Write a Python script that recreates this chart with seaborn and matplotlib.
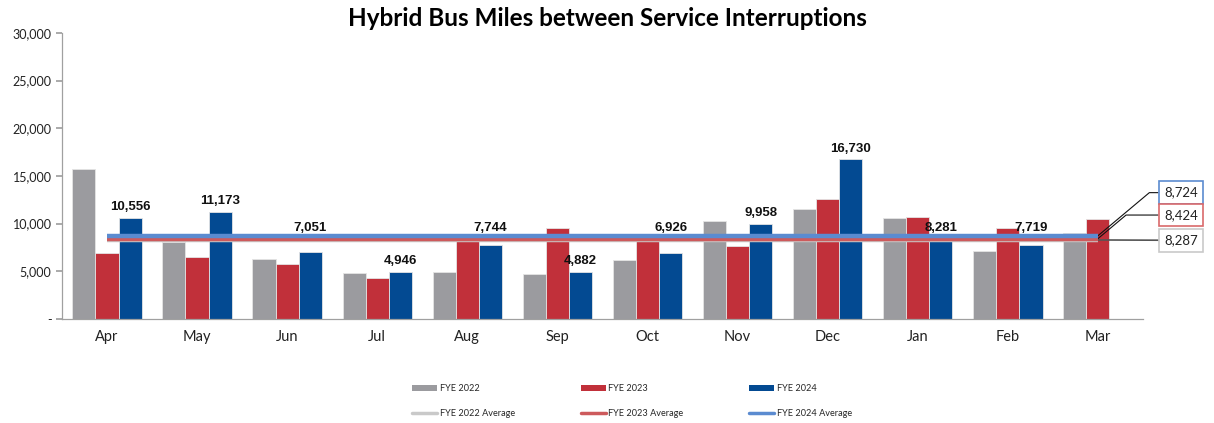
import numpy as np
import pandas as pd
import matplotlib
matplotlib.use("Agg")
import matplotlib.pyplot as plt
import seaborn as sns
from matplotlib.patches import Patch
from matplotlib.lines import Line2D

months = ["Apr", "May", "Jun", "Jul", "Aug", "Sep", "Oct", "Nov", "Dec", "Jan", "Feb", "Mar"]
fye2022 = [15750, 8100, 6320, 4850, 4920, 4720, 6150, 10270, 11530, 10550, 7130, 8980]
fye2023 = [6900, 6500, 5730, 4260, 8870, 9500, 8180, 7650, 12540, 10660, 9500, 10450]
fye2024 = [10556, 11173, 7051, 4946, 7744, 4882, 6926, 9958, 16730, 8281, 7719, np.nan]
series = ["FYE 2022", "FYE 2023", "FYE 2024"]
averages = {"FYE 2022": 8287, "FYE 2023": 8424, "FYE 2024": 8724}

bar_colors = {"FYE 2022": "#9b9b9f", "FYE 2023": "#c1303a", "FYE 2024": "#034a92"}
avg_colors = {"FYE 2022": "#c9c9c9", "FYE 2023": "#cd5a5c", "FYE 2024": "#5b8bd0"}
box_edges = {"FYE 2022": "#c9c9c9", "FYE 2023": "#d9696b", "FYE 2024": "#5b8bd0"}

df = pd.DataFrame({
    "Month": months * 3,
    "Series": [s for s in series for _ in months],
    "Value": fye2022 + fye2023 + fye2024,
})

sns.set_theme(style="white")
plt.rcParams["font.family"] = ["Lato", "DejaVu Sans"]

fig = plt.figure(figsize=(12.14, 4.23), dpi=100)
ax = fig.add_axes([0.051, 0.246, 0.8905, 0.676])

sns.barplot(data=df, x="Month", y="Value", hue="Series", order=months,
            hue_order=series, palette=bar_colors, width=0.77, ax=ax, saturation=1,
            edgecolor="#e4e4e4", linewidth=0.6, legend=False, errorbar=None)

# average lines
for s in series:
    ax.plot([0, len(months) - 1], [averages[s]] * 2, color=avg_colors[s], lw=3.2,
            solid_capstyle="butt", zorder=4)

# data labels for FYE 2024
for i, v in enumerate(fye2024):
    if np.isnan(v):
        continue
    y = v + 1150
    if 8000 < y < 9500:
        y = 9550
    ax.text(i + 0.257, y, f"{int(v):,}", ha="center", va="center",
            fontsize=9.5, fontweight="bold", family="Liberation Sans", color="#111111", zorder=6)

# callouts for averages
box_y = {"FYE 2024": 13250, "FYE 2023": 10900, "FYE 2022": 8250}
for s in ["FYE 2024", "FYE 2023", "FYE 2022"]:
    ax.annotate(f"{averages[s]:,}", xy=(11.0, averages[s]), xytext=(11.92, box_y[s]),
                textcoords="data", ha="center", va="center", fontsize=9.5, color="#222222",
                annotation_clip=False,
                bbox=dict(boxstyle="square,pad=0.4", fc="white", ec=box_edges[s], lw=1.2),
                arrowprops=dict(arrowstyle="-", color="#111111" if s != "FYE 2022" else "#555555",
                                lw=0.8 if s != "FYE 2022" else 1.2,
                                connectionstyle="angle,angleA=0,angleB=40,rad=0" if s != "FYE 2022" else "arc3",
                                shrinkA=0, shrinkB=0))

ax.set_ylim(0, 30000)
ax.set_xlim(-0.5, len(months) - 0.5)
ax.set_yticks(range(0, 30001, 5000))
ax.set_yticklabels(["-" if t == 0 else f"{t:,}" for t in range(0, 30001, 5000)], fontsize=9,
                   color="#222222")
ax.set_xticks(range(len(months)))
ax.set_xticklabels(months, fontsize=10.5, color="#222222")
ax.set_xticks(np.arange(-0.5, len(months), 1.0), minor=True)
ax.tick_params(axis="x", which="major", length=0, pad=8)
ax.tick_params(axis="x", which="minor", length=4, color="#a0a0a0", direction="out")
ax.tick_params(axis="y", length=4, color="#a0a0a0", direction="out", left=True)
ax.set_xlabel("")
ax.set_ylabel("")
for sp in ["top", "right"]:
    ax.spines[sp].set_visible(False)
for sp in ["left", "bottom"]:
    ax.spines[sp].set_color("#a0a0a0")
    ax.spines[sp].set_linewidth(0.9)

fig.text(0.5, 0.957, "Hybrid Bus Miles between Service Interruptions", ha="center", va="center",
         fontsize=17.5, fontweight="bold", color="#000000")

handles = []
labels = []
for s in series:
    handles.append(Patch(facecolor=bar_colors[s], edgecolor="none"))
    labels.append(s)
    handles.append(Line2D([0], [0], color=avg_colors[s], lw=2.5))
    labels.append(f"{s} Average")
fig.legend(handles, labels, ncol=3, loc="upper left", bbox_to_anchor=(412 / 1214, 1 - 384 / 423),
           frameon=False, fontsize=6.6, columnspacing=7.2, handlelength=2.75,
           handleheight=0.6, handletextpad=0.25, labelspacing=1.75, borderpad=0, borderaxespad=0)

fig.savefig("out.png", dpi=100)
